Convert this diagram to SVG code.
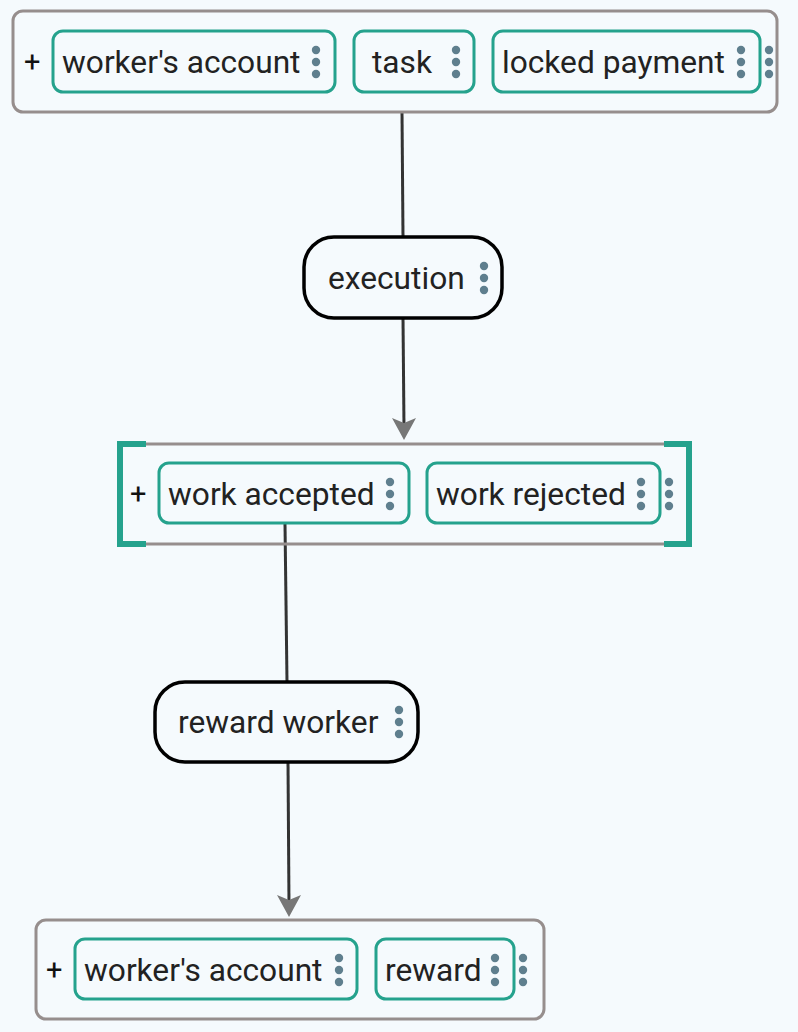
<svg xmlns="http://www.w3.org/2000/svg" width="798" height="1032" viewBox="0 0 798 1032">
<defs>
<style>
.bg{fill:#f5fafd}
.box{fill:#f5fafd;stroke:#968e8d;stroke-width:3}
.pill{fill:#f5fafd;stroke:#25a28d;stroke-width:3}
.proc{fill:#f5fafd;stroke:#000;stroke-width:3.5}
.t{font-family:Roboto,"Liberation Sans",sans-serif;font-size:31.7px;fill:#222}
.plus{font-family:Roboto,"Liberation Sans",sans-serif;font-size:29px;fill:#111}
.dot{fill:#5f7f8e}
.edge{stroke:#333;stroke-width:3;fill:none}
.brk{fill:none;stroke:#25a28d;stroke-width:6}
.hl{stroke:#968e8d;stroke-width:3}
</style>
<g id="dots"><circle cx="0" cy="-12" r="4.2" class="dot"/><circle cx="0" cy="0" r="4.2" class="dot"/><circle cx="0" cy="12" r="4.2" class="dot"/></g>
</defs>
<rect class="bg" x="0" y="0" width="798" height="1032"/>

<g id="connectors">
<line class="edge" x1="402" y1="112" x2="403" y2="237"/>
<line class="edge" x1="403" y1="318" x2="404" y2="428"/>
<path d="M392,418 L404,423 L416,418 L404,440 Z" fill="#777"/>
<line class="edge" x1="285" y1="524" x2="287" y2="682"/>
<line class="edge" x1="288" y1="762" x2="289" y2="905"/>
<path d="M277,895 L289,900 L301,895 L289,917 Z" fill="#777"/>
</g>

<g id="state-start">
<rect class="box" x="13" y="11" width="764" height="101" rx="10"/>
<text class="plus" x="24" y="72">+</text>
<g id="start-workers-account">
<rect class="pill" x="53" y="31" width="282" height="61" rx="10"/>
<text class="t" x="62" y="73">worker's account</text>
<use href="#dots" x="316" y="62"/>
</g>
<g id="start-task">
<rect class="pill" x="354" y="31" width="120" height="61" rx="10"/>
<text class="t" x="372" y="73">task</text>
<use href="#dots" x="456" y="62"/>
</g>
<g id="start-locked-payment">
<rect class="pill" x="493" y="31" width="267" height="61" rx="10"/>
<text class="t" x="502" y="73">locked payment</text>
<use href="#dots" x="741" y="62"/>
</g>
<use href="#dots" x="769" y="62"/>
</g>

<g id="execution">
<rect class="proc" x="304" y="237" width="198" height="81" rx="30"/>
<text class="t" x="328" y="289">execution</text>
<use href="#dots" x="484" y="278"/>
</g>

<g id="state-result">
<line class="hl" x1="140" y1="444" x2="670" y2="444"/>
<line class="hl" x1="140" y1="544" x2="670" y2="544"/>
<path class="brk" d="M146,444 L120,444 L120,544 L146,544"/>
<path class="brk" d="M664,444 L689,444 L689,544 L664,544"/>
<text class="plus" x="130" y="504">+</text>
<g id="work-accepted">
<rect class="pill" x="159" y="463" width="250" height="60" rx="10"/>
<text class="t" x="168" y="505">work accepted</text>
<use href="#dots" x="390" y="494"/>
</g>
<g id="work-rejected">
<rect class="pill" x="427" y="463" width="233" height="60" rx="10"/>
<text class="t" x="436" y="505">work rejected</text>
<use href="#dots" x="641" y="494"/>
</g>
<use href="#dots" x="669" y="494"/>
</g>

<g id="reward-worker">
<rect class="proc" x="155" y="682" width="263" height="80" rx="30"/>
<text class="t" x="178" y="733">reward worker</text>
<use href="#dots" x="399" y="722"/>
</g>

<g id="state-end">
<rect class="box" x="36" y="920" width="508" height="99" rx="10"/>
<text class="plus" x="46" y="980">+</text>
<g id="end-workers-account">
<rect class="pill" x="75" y="939" width="282" height="60" rx="10"/>
<text class="t" x="84" y="981">worker's account</text>
<use href="#dots" x="339" y="970"/>
</g>
<g id="end-reward">
<rect class="pill" x="376" y="939" width="138" height="60" rx="10"/>
<text class="t" x="385" y="981">reward</text>
<use href="#dots" x="495" y="970"/>
</g>
<use href="#dots" x="523" y="970"/>
</g>
</svg>
